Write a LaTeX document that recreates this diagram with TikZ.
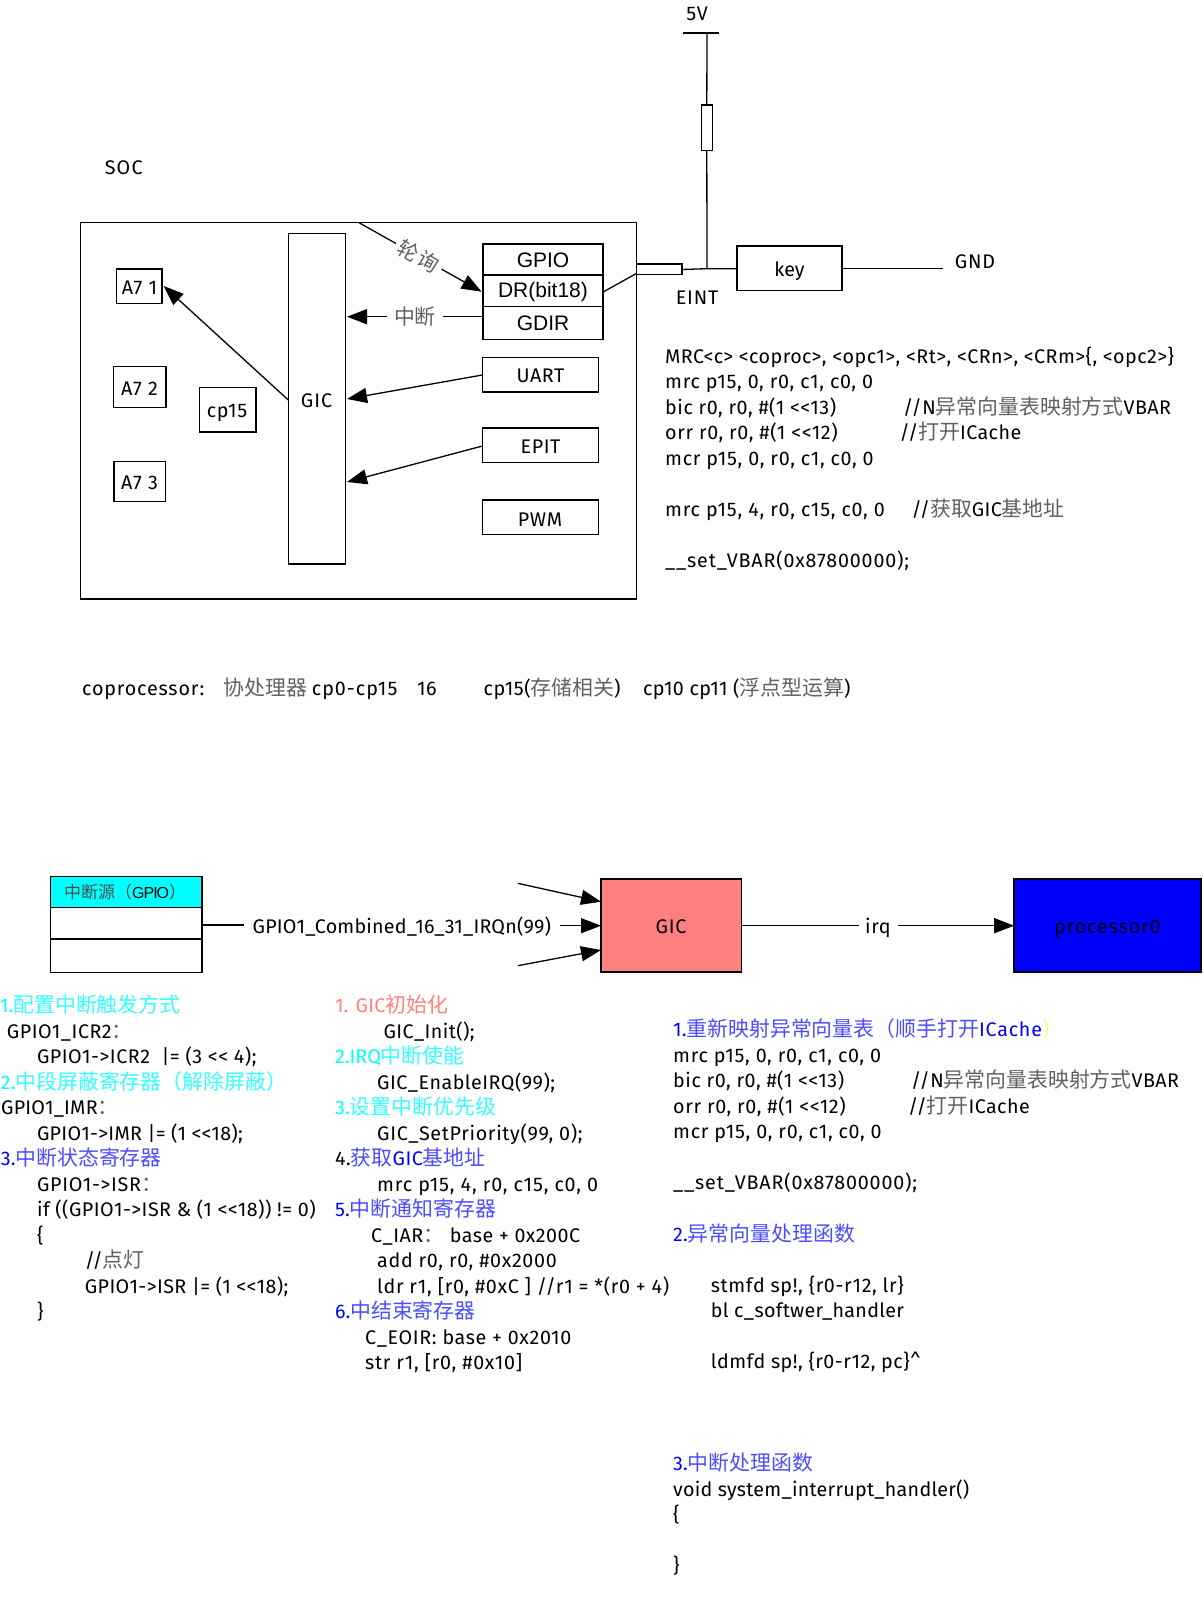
\documentclass[tikz,border=0pt]{standalone}
\usepackage{fontspec}
\usetikzlibrary{arrows.meta}
\setmainfont{Fira Sans}
\newfontfamily\cjk[Scale=1.06]{Noto Sans CJK SC}
\newfontfamily\arialf{Liberation Sans}
\newcommand\cj[2][black!62]{{\color{#1}\cjk #2}}
\newcommand\ls[2]{{\addfontfeature{LetterSpace=#1}#2}}
\definecolor{cy}{HTML}{00FFFF}
\definecolor{cyl}{HTML}{33FFFF}
\definecolor{bl}{HTML}{0000FF}
\definecolor{bll}{HTML}{4D4DFF}
\definecolor{rd}{HTML}{FF8080}
\tikzset{
 txt/.style={anchor=base west,inner sep=0pt,font=\fontsize{19.7}{24}\selectfont},
 ctr/.style={anchor=center,inner sep=0pt,font=\fontsize{19.7}{24}\selectfont},
 arl/.style={anchor=center,inner sep=0pt,font=\arialf\fontsize{21}{24}\selectfont},
 wire/.style={draw=black,line width=1.3pt},
 arrw/.style={wire,-{Triangle[length=20pt,width=15pt]}},
 gaplabel/.style={anchor=center,fill=white,inner sep=0pt,font=\fontsize{19.7}{24}\selectfont}
}
\newcommand\rect[5]{\node[draw=black,line width=1.3pt,inner sep=0pt,outer sep=0pt,anchor=north west,minimum width=#4pt-#2pt,minimum height=#5pt-#3pt] (#1) at (#2,#3) {};}
\begin{document}
\begin{tikzpicture}[x=1pt,y=-1pt]
\useasboundingbox (0,0) rectangle (1203,1602);
\fill[white] (0,0) rectangle (1203,1602);
% --- upper diagram
\rect{soc}{80.4}{222.7}{636.7}{599}
\rect{gic}{288.3}{233.3}{345.7}{564}
\rect{gpio}{482.9}{244}{602.9}{339.3}
\rect{uart}{482.4}{357.7}{598.8}{392}
\rect{epit}{482.4}{428}{598.8}{462.7}
\rect{pwm}{482.4}{500}{598.8}{534.3}
\rect{aa}{116.3}{269}{162}{303.7}
\rect{ab}{113.5}{366.7}{166}{407.3}
\rect{ac}{113.9}{461.7}{165.7}{501.3}
\rect{cp}{199.2}{387.3}{255.9}{432}
\rect{conn}{636.7}{264}{682}{274.7}
\rect{res}{701.3}{105}{712.3}{150.3}
\rect{key}{737}{246}{842}{290.7}
\coordinate (div1a) at (482.9,275);
\coordinate (div1b) at (602.9,275);
\coordinate (div2a) at (482.9,306.7);
\coordinate (div2b) at (602.9,306.7);
\draw[wire] (div1a) -- (div1b);
\draw[wire] (div2a) -- (div2b);
\node[ctr] (tsoc) at (123.7,167.5) {\ls{6}{SOC}};
\node[arl] (tgpio) at (543,260) {GPIO};
\node[arl] (tdr) at (543,292) {DR(bit18)};
\node[arl] (tgdir) at (543,323.5) {GDIR};
\node[ctr] (tuart) at (540.5,376) {\ls{3}{UART}};
\node[ctr] (tepit) at (540.5,447) {\ls{3}{EPIT}};
\node[ctr] (tpwm) at (540,519.5) {\ls{4}{PWM}};
\node[ctr] (taa) at (139.5,288) {\ls{5}{A7 1}};
\node[ctr] (tab) at (139.5,388.5) {\ls{5}{A7 2}};
\node[ctr] (tac) at (139.5,483) {\ls{5}{A7 3}};
\node[ctr] (tcp) at (227,413) {\ls{3}{cp15}};
\node[ctr] (tgic) at (316.5,401) {\ls{5}{GIC}};
\node[ctr] (tkey) at (789.5,271) {key};
\node[ctr] (t5v) at (697,14) {\ls{6}{5V}};
\node[ctr] (teint) at (697,298) {\ls{4}{EINT}};
\node[ctr] (tgnd) at (975,261.5) {\ls{4}{GND}};
\coordinate (pollS) at (359,222.7);
\coordinate (pollE) at (481.6,291.7);
\coordinate (irqS) at (482.9,316.7);
\coordinate (irqE) at (347,316.7);
\coordinate (uS) at (482.4,375);
\coordinate (uE) at (347,399);
\coordinate (eS) at (482.4,446);
\coordinate (eE) at (347,482);
\coordinate (gS) at (288.3,400);
\coordinate (gE) at (163.7,286);
\coordinate (drS) at (603.7,291.7);
\coordinate (drE) at (636.7,273.3);
\coordinate (topL) at (682.7,33);
\coordinate (topR) at (719.3,33);
\coordinate (topM) at (707,33);
\coordinate (jun) at (707,268.7);
\coordinate (gndE) at (943.3,268.7);
\coordinate (keyW) at (737,268.7);
\coordinate (keyE) at (842,268.7);
\coordinate (connE) at (682,269.5);
\draw[arrw] (pollS) -- node[gaplabel,sloped,minimum width=52pt,minimum height=16pt,pos=0.487] (lpoll) {\cj{轮\kern2pt 询}} (pollE);
\draw[arrw] (irqS) -- node[gaplabel,minimum width=56pt,minimum height=16pt,pos=0.5] (lirq) {\cj{中断}} (irqE);
\draw[arrw] (uS) -- (uE);
\draw[arrw] (eS) -- (eE);
\draw[arrw] (gS) -- (gE);
\draw[wire] (drS) -- (drE);
\draw[wire] (topL) -- (topR);
\draw[wire] (topM) -- (res.north);
\draw[wire] (res.south) -- (jun);
\draw[wire] (connE) -- (jun) -- (keyW);
\draw[wire] (keyE) -- (gndE);
% --- register text, top right
\node[txt] (a0) at (665,363) {\ls{2.3}{MRC<c> <coproc>, <opc1>, <Rt>, <CRn>, <CRm>\{, <opc2>\}}};
\node[txt] (a1) at (665,388.5) {\ls{3.6}{mrc p15, 0, r0, c1, c0, 0}};
\node[txt] (a2) at (665,414) {\ls{2.7}{bic r0, r0, \#(1 <{}<13)}};
\node[txt] (a2c) at (903,414) {\ls{2.4}{//N\cj{异常向量表映射方式}VBAR}};
\node[txt] (a3) at (665,439.5) {\ls{3.2}{orr r0, r0, \#(1 <{}<12)}};
\node[txt] (a3c) at (899.5,439.5) {\ls{2.2}{//\cj{打开}ICache}};
\node[txt] (a4) at (665,465) {\ls{3.6}{mcr p15, 0, r0, c1, c0, 0}};
\node[txt] (a6) at (665,516) {\ls{4}{mrc p15, 4, r0, c15, c0, 0}};
\node[txt] (a6c) at (911.5,516) {\ls{1.8}{//\cj{获取}GIC\cj{基地址}}};
\node[txt] (a8) at (665,567) {\ls{4.3}{\_\_set\_VBAR(0x87800000);}};
% --- coprocessor line
\node[txt] (c0) at (82,695) {\ls{4.3}{coprocessor:}};
\node[txt] (c1) at (223.7,695) {\cj{协处理器}};
\node[txt] (c2) at (311.7,695) {\ls{5}{cp0-cp15}};
\node[txt] (c3) at (417,695) {\ls{2}{16}};
\node[txt] (c4) at (483.5,695) {\ls{2.6}{cp15(\cj{存储相关})}};
\node[txt] (c5) at (643,695) {\ls{1.9}{cp10 cp11 (\cj{浮点型运算})}};
% --- lower diagram
\node[draw=black,line width=1.3pt,fill=cy,inner sep=0pt,outer sep=0pt,anchor=north west,minimum width=151.4pt,minimum height=31pt] (chead) at (50.6,876.7) {};
\rect{cbody}{50.6}{907.7}{202}{972.7}
\coordinate (cdivA) at (50.6,939);
\coordinate (cdivB) at (202,939);
\draw[wire] (cdivA) -- (cdivB);
\node[anchor=west,inner sep=0pt,font=\fontsize{16}{20}\selectfont] (thead) at (64,892) {\cj[black!70]{中断源（}{\arialf\addfontfeature{LetterSpace=-6}GPIO}\cj[black!70]{）}};
\node[draw=black,line width=1.3pt,fill=rd,inner sep=0pt,outer sep=0pt,anchor=north west,minimum width=140.4pt,minimum height=93pt] (gicb) at (601,879) {};
\node[draw=black,line width=1.6pt,fill=bl,inner sep=0pt,outer sep=0pt,anchor=north west,minimum width=187pt,minimum height=93pt] (proc) at (1014.2,879) {};
\node[ctr] (tgicb) at (671,927) {\ls{4}{GIC}};
\node[ctr] (tproc) at (1107.5,929) {\ls{4.5}{processor0}};
\node[txt] (tirqn) at (252.5,933) {\ls{1}{GPIO1\_Combined\_16\_31\_IRQn(99)}};
\node[ctr] (tirq) at (878,928) {\ls{3}{irq}};
\coordinate (n1) at (202,925);
\coordinate (n2) at (244,925);
\coordinate (n3) at (559.6,925.7);
\coordinate (n4) at (601,925.7);
\coordinate (u1) at (517.8,883.3);
\coordinate (u2) at (601,901.7);
\coordinate (d1) at (517.8,965.7);
\coordinate (d2) at (601,950);
\coordinate (i1) at (741.4,925.7);
\coordinate (i2) at (859,925.7);
\coordinate (i3) at (898,925.7);
\coordinate (i4) at (1014.2,925.7);
\draw[wire] (n1) -- (n2);
\draw[arrw] (n3) -- (n4);
\draw[arrw] (u1) -- (u2);
\draw[arrw] (d1) -- (d2);
\draw[wire] (i1) -- (i2);
\draw[arrw] (i3) -- (i4);
% --- left column
\node[txt] (l0) at (0,1012.5) {\color{cy}1.\cj[cyl]{配置中断触发方式}};
\node[txt] (l1) at (6.7,1038) {\ls{2.5}{GPIO1\_ICR2\cj{：}}};
\node[txt] (l2) at (36.8,1063.5) {\ls{2.6}{GPIO1->ICR2 \ |= (3 <{}< 4);}};
\node[txt] (l3) at (0.8,1089) {\color{cy}2.\cj[cyl]{中段屏蔽寄存器（解除屏蔽）}};
\node[txt] (l4) at (1,1114.5) {\ls{1}{GPIO1\_IMR\cj{：}}};
\node[txt] (l5) at (36.8,1140) {\ls{1.5}{GPIO1->IMR |= (1 <{}<18);}};
\node[txt] (l6) at (0.8,1165.5) {\color{bl}3.\cj[bll]{中断状态寄存器}};
\node[txt] (l7) at (36.8,1191) {\ls{3.5}{GPIO1->ISR\cj{：}}};
\node[txt] (l8) at (36.8,1216.5) {\ls{2.4}{if ((GPIO1->ISR \& (1 <{}<18)) != 0)}};
\node[txt] (l9) at (36.8,1242) {\{};
\node[txt] (l10) at (84.6,1267.5) {//\cj{点灯}};
\node[txt] (l11) at (84.6,1293) {\ls{2.1}{GPIO1->ISR |= (1 <{}<18);}};
\node[txt] (l12) at (36.8,1318.5) {\}};
% --- middle column
\node[txt] (m0) at (334.8,1012.5) {\color{rd}\ls{1}{1. GIC\cj[rd]{初始化}}};
\node[txt] (m1) at (383.4,1038) {\ls{2}{GIC\_Init();}};
\node[txt] (m2) at (335,1063.5) {\color{cy}2.IRQ\cj[cyl]{中断使能}};
\node[txt] (m3) at (377,1089) {\ls{2.5}{GIC\_EnableIRQ(99);}};
\node[txt] (m4) at (335,1114.5) {\color{cy}3.\cj[cyl]{设置中断优先级}};
\node[txt] (m5) at (377,1140) {\ls{3.4}{GIC\_SetPriority(99, 0);}};
\node[txt] (m6) at (335,1165.5) {\ls{2.5}{4.\cj[bll]{获取}{\color{bl}GIC}\cj[bll]{基地址}}};
\node[txt] (m7) at (377,1191) {\ls{4.3}{mrc p15, 4, r0, c15, c0, 0}};
\node[txt] (m8) at (335,1216.5) {\color{bl}5.\cj[bll]{中断通知寄存器}};
\node[txt] (m9) at (371,1242) {\ls{2.4}{C\_IAR\cj{：}\ base + 0x200C}};
\node[txt] (m10) at (377,1267.5) {\ls{3.4}{add r0, r0, \#0x2000}};
\node[txt] (m11) at (377,1293) {\ls{3.4}{ldr r1, [r0, \#0xC ] //r1 = *(r0 + 4)}};
\node[txt] (m12) at (335,1318.5) {\color{bl}6.\cj[bll]{中结束寄存器}};
\node[txt] (m13) at (365,1344) {\ls{3.2}{C\_EOIR: base + 0x2010}};
\node[txt] (m14) at (365,1369.5) {\ls{3.6}{str r1, [r0, \#0x10]}};
% --- right column
\node[txt] (r0) at (673,1036.5) {\color{bl}\ls{1.2}{1.\cj[bll]{重新映射异常向量表（顺手打开}\ls{4}{ICache}\cj[yellow!60]{）}}};
\node[txt] (r1) at (673,1062) {\ls{3.6}{mrc p15, 0, r0, c1, c0, 0}};
\node[txt] (r2) at (673,1087.5) {\ls{2.7}{bic r0, r0, \#(1 <{}<13)}};
\node[txt] (r2c) at (911,1087.5) {\ls{2.4}{//N\cj{异常向量表映射方式}VBAR}};
\node[txt] (r3) at (673,1113) {\ls{3.2}{orr r0, r0, \#(1 <{}<12)}};
\node[txt] (r3c) at (908,1113) {\ls{2.2}{//\cj{打开}ICache}};
\node[txt] (r4) at (673,1138.5) {\ls{3.6}{mcr p15, 0, r0, c1, c0, 0}};
\node[txt] (r6) at (673,1189.5) {\ls{4.3}{\_\_set\_VBAR(0x87800000);}};
\node[txt] (r8) at (673,1241) {\color{bl}\ls{1}{2.\cj[bll]{异常向量处理函数}}};
\node[txt] (r10) at (710.7,1292) {\ls{3.2}{stmfd sp!, \{r0-r12, lr\}}};
\node[txt] (r11) at (710.7,1317.5) {\ls{1.6}{bl c\_softwer\_handler}};
\node[txt] (r13) at (710.7,1368.5) {\ls{2.4}{ldmfd sp!, \{r0-r12, pc\}\^{}}};
\node[txt] (r17) at (673,1470.5) {\color{bl}3.\cj[bll]{中断处理函数}};
\node[txt] (r18) at (673,1496) {\ls{1.3}{void system\_interrupt\_handler()}};
\node[txt] (r19) at (673,1521.5) {\{};
\node[txt] (r21) at (673,1572.5) {\}};
\end{tikzpicture}
\end{document}
